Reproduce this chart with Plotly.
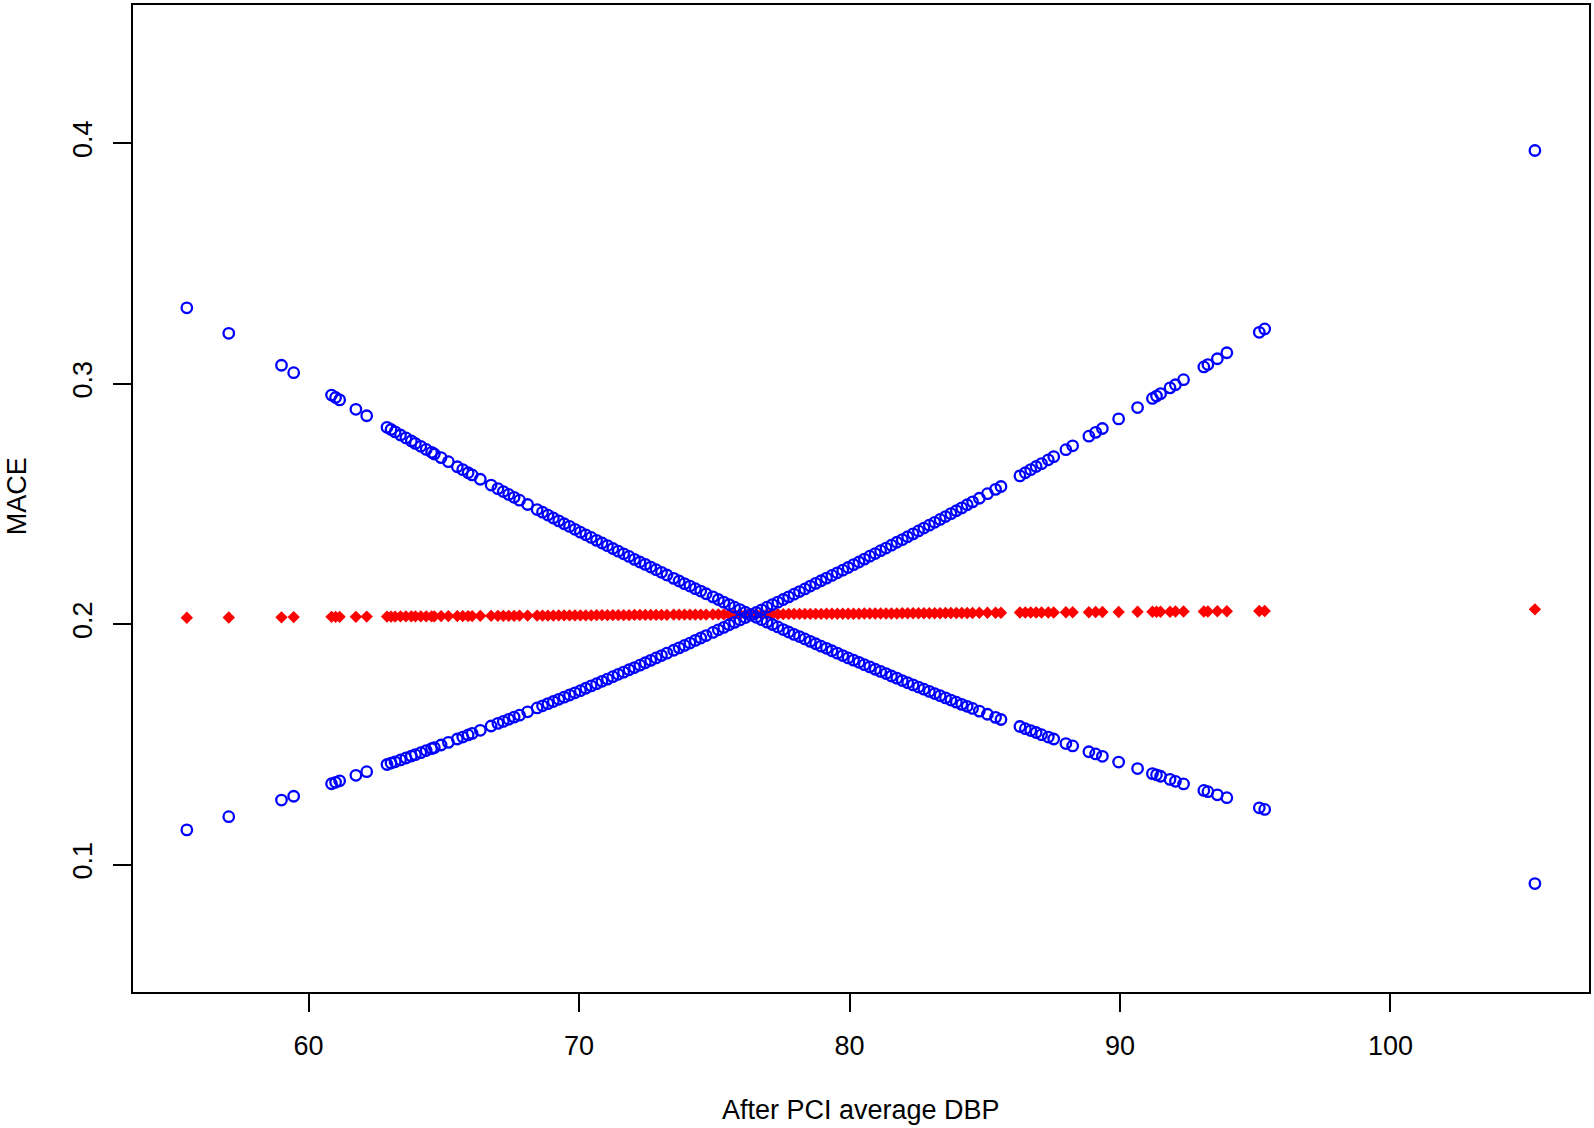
import plotly.graph_objects as go

# After PCI average DBP (x) and predicted MACE with its confidence limits
dbp = [55.5, 57.05, 59.0, 59.45, 60.85, 61.0, 61.15, 61.75, 62.15,
       62.9, 63.05, 63.2, 63.4, 63.6, 63.8, 63.95, 64.15, 64.35, 64.55, 64.65, 64.9, 65.17, 65.5, 65.7, 65.9,
       66.05, 66.35, 66.75, 67.0, 67.2, 67.4, 67.6, 67.8, 68.1,
       68.45, 68.65, 68.85, 69.05, 69.25, 69.45, 69.65, 69.85, 70.05, 70.25, 70.45, 70.65, 70.85, 71.05,
       71.25, 71.45, 71.65, 71.85,
       72.05, 72.25, 72.45, 72.65, 72.85, 73.05, 73.25, 73.5, 73.7, 73.9, 74.1, 74.3, 74.5, 74.7,
       74.95, 75.15, 75.35, 75.55, 75.75,
       75.95, 76.15, 76.35, 76.55, 76.75, 76.95,
       77.15, 77.35, 77.55, 77.75, 77.95, 78.15, 78.35, 78.55, 78.75, 78.95, 79.15, 79.35, 79.55, 79.75,
       79.95, 80.15, 80.35, 80.55, 80.75, 80.95,
       81.15, 81.35, 81.55, 81.75, 81.95, 82.15, 82.35, 82.55, 82.75, 82.95, 83.15, 83.35, 83.55, 83.75,
       83.95, 84.15, 84.35, 84.55,
       84.8, 85.1, 85.4, 85.6, 86.3, 86.5, 86.7, 86.9, 87.1, 87.35, 87.55, 88.0, 88.25, 88.85, 89.1, 89.35,
       89.95, 90.65, 91.2, 91.35, 91.5, 91.85, 92.05, 92.35, 93.1, 93.25, 93.6, 93.95, 95.15, 95.35, 105.34]

mace_upper = [0.3316, 0.3210, 0.3077, 0.3046, 0.2953, 0.2943, 0.2933, 0.2894, 0.2867,
              0.2819, 0.2810, 0.2800, 0.2787, 0.2775, 0.2762, 0.2752, 0.2740, 0.2727, 0.2715, 0.2708, 0.2693,
              0.2676, 0.2655, 0.2643, 0.2630, 0.2621, 0.2603, 0.2579, 0.2564, 0.2552, 0.2540, 0.2528, 0.2516, 0.2498,
              0.2477, 0.2466, 0.2454, 0.2442, 0.2430, 0.2418, 0.2407, 0.2395, 0.2383, 0.2372, 0.2361, 0.2349,
              0.2338, 0.2327, 0.2315, 0.2304, 0.2293, 0.2282,
              0.2270, 0.2259, 0.2249, 0.2238, 0.2227, 0.2216, 0.2205, 0.2191, 0.2180, 0.2169, 0.2159, 0.2148,
              0.2138, 0.2127,
              0.2114, 0.2103, 0.2092, 0.2082, 0.2071,
              0.2061, 0.2050, 0.2040, 0.2049, 0.2060, 0.2071,
              0.2082, 0.2092, 0.2103, 0.2114, 0.2125, 0.2136, 0.2147, 0.2159, 0.2170, 0.2181, 0.2192, 0.2203,
              0.2214, 0.2225, 0.2236, 0.2248, 0.2259, 0.2271, 0.2283, 0.2294,
              0.2306, 0.2317, 0.2329, 0.2341, 0.2352, 0.2364, 0.2376, 0.2388, 0.2400, 0.2412, 0.2424, 0.2436,
              0.2448, 0.2460, 0.2472, 0.2484, 0.2497, 0.2509,
              0.2524, 0.2543, 0.2561, 0.2573, 0.2617, 0.2630, 0.2643, 0.2656, 0.2668, 0.2684, 0.2697, 0.2726,
              0.2742, 0.2782, 0.2798, 0.2814, 0.2854, 0.2901, 0.2939, 0.2949, 0.2959, 0.2983, 0.2996, 0.3017,
              0.3070, 0.3080, 0.3104, 0.3129, 0.3214, 0.3228, 0.3970]

mace_lower = [0.1145, 0.1200, 0.1269, 0.1285, 0.1337, 0.1343, 0.1349, 0.1372, 0.1387,
              0.1417, 0.1423, 0.1428, 0.1436, 0.1444, 0.1452, 0.1458, 0.1466, 0.1475, 0.1483, 0.1487, 0.1498,
              0.1509, 0.1523, 0.1531, 0.1540, 0.1546, 0.1559, 0.1577, 0.1588, 0.1596, 0.1605, 0.1614, 0.1622, 0.1636,
              0.1652, 0.1661, 0.1670, 0.1679, 0.1688, 0.1697, 0.1706, 0.1715, 0.1724, 0.1734, 0.1744, 0.1753,
              0.1763, 0.1772, 0.1782, 0.1792, 0.1801, 0.1811,
              0.1820, 0.1830, 0.1840, 0.1850, 0.1860, 0.1870, 0.1880, 0.1892, 0.1902, 0.1912, 0.1922, 0.1933,
              0.1943, 0.1953,
              0.1966, 0.1977, 0.1987, 0.1998, 0.2008,
              0.2018, 0.2028, 0.2038, 0.2029, 0.2019, 0.2009,
              0.1999, 0.1989, 0.1978, 0.1968, 0.1958, 0.1949, 0.1939, 0.1929, 0.1919, 0.1909, 0.1900, 0.1890,
              0.1880, 0.1870, 0.1860, 0.1851, 0.1842, 0.1832, 0.1823, 0.1813,
              0.1804, 0.1795, 0.1785, 0.1776, 0.1766, 0.1757, 0.1748, 0.1739, 0.1730, 0.1721, 0.1712, 0.1703,
              0.1694, 0.1685, 0.1676, 0.1667, 0.1659, 0.1650,
              0.1639, 0.1626, 0.1613, 0.1604, 0.1575, 0.1566, 0.1558, 0.1550, 0.1541, 0.1531, 0.1523, 0.1504,
              0.1494, 0.1470, 0.1461, 0.1451, 0.1427, 0.1400, 0.1379, 0.1374, 0.1368, 0.1355, 0.1347, 0.1336,
              0.1309, 0.1304, 0.1291, 0.1279, 0.1237, 0.1230, 0.0922]

mace_fit = [0.2027, 0.2028, 0.2029, 0.2030, 0.2031, 0.2031, 0.2031, 0.2031, 0.2032,
            0.2032, 0.2032, 0.2032, 0.2033, 0.2033, 0.2033, 0.2033, 0.2033, 0.2033, 0.2033, 0.2033, 0.2034,
            0.2034, 0.2034, 0.2034, 0.2034, 0.2034, 0.2035, 0.2035, 0.2035, 0.2035, 0.2035, 0.2035, 0.2036, 0.2036,
            0.2036, 0.2036, 0.2036, 0.2036, 0.2037, 0.2037, 0.2037, 0.2037, 0.2037, 0.2037, 0.2037, 0.2038,
            0.2038, 0.2038, 0.2038, 0.2038, 0.2038, 0.2038,
            0.2039, 0.2039, 0.2039, 0.2039, 0.2039, 0.2039, 0.2039, 0.2040, 0.2040, 0.2040, 0.2040, 0.2040,
            0.2040, 0.2040,
            0.2041, 0.2041, 0.2041, 0.2041, 0.2041,
            0.2041, 0.2041, 0.2042, 0.2042, 0.2042, 0.2042,
            0.2042, 0.2042, 0.2042, 0.2043, 0.2043, 0.2043, 0.2043, 0.2043, 0.2043, 0.2043, 0.2044, 0.2044,
            0.2044, 0.2044, 0.2044, 0.2044, 0.2044, 0.2045, 0.2045, 0.2045,
            0.2045, 0.2045, 0.2045, 0.2045, 0.2046, 0.2046, 0.2046, 0.2046, 0.2046, 0.2046, 0.2046, 0.2046,
            0.2047, 0.2047, 0.2047, 0.2047, 0.2047, 0.2047,
            0.2048, 0.2048, 0.2048, 0.2048, 0.2049, 0.2049, 0.2049, 0.2049, 0.2049, 0.2049, 0.2049, 0.2050,
            0.2050, 0.2050, 0.2051, 0.2051, 0.2051, 0.2052, 0.2052, 0.2052, 0.2052, 0.2052, 0.2053, 0.2053,
            0.2053, 0.2053, 0.2054, 0.2054, 0.2055, 0.2055, 0.2062]

x_ticks = [60, 70, 80, 90, 100]
y_ticks = [0.1, 0.2, 0.3, 0.4]
y_tick_text = ["0.1", "0.2", "0.3", "0.4"]

FONT = "Liberation Sans, Arial, sans-serif"

fig = go.Figure()
fig.add_trace(go.Scatter(
    x=dbp, y=mace_fit, mode="markers",
    marker=dict(symbol="diamond", size=9.5, color="#ff0000", line=dict(width=0)),
    showlegend=False, name="MACE"))
fig.add_trace(go.Scatter(
    x=dbp, y=mace_upper, mode="markers",
    marker=dict(symbol="circle-open", size=10.5, color="#0000ff", line=dict(width=2.3, color="#0000ff")),
    showlegend=False, name="upper"))
fig.add_trace(go.Scatter(
    x=dbp, y=mace_lower, mode="markers",
    marker=dict(symbol="circle-open", size=10.5, color="#0000ff", line=dict(width=2.3, color="#0000ff")),
    showlegend=False, name="lower"))

axis_common = dict(
    showgrid=False, zeroline=False, showline=True, linewidth=2, linecolor="black",
    mirror=True, ticks="outside", ticklen=18, tickwidth=2, tickcolor="black",
    tickfont=dict(family=FONT, size=27, color="black"),
)

fig.update_xaxes(range=[53.51, 107.34], tickvals=x_ticks, ticklabelstandoff=11, **axis_common)
fig.update_yaxes(range=[0.0471, 0.4575], tickvals=y_ticks, ticktext=y_tick_text, tickangle=-90,
                 ticklabelstandoff=10, **axis_common)

fig.add_annotation(text="After PCI average DBP", xref="paper", yref="paper",
                   x=0.5, y=-0.1194, xanchor="center", yanchor="middle", showarrow=False,
                   font=dict(family=FONT, size=27, color="black"))
fig.add_annotation(text="MACE", xref="paper", yref="paper",
                   x=-0.0798, y=0.502, xanchor="center", yanchor="middle", showarrow=False,
                   textangle=-90, font=dict(family=FONT, size=27, color="black"))

fig.update_layout(
    width=1594, height=1128,
    margin=dict(l=133, r=3, t=4, b=136),
    paper_bgcolor="white", plot_bgcolor="white",
    showlegend=False,
)

fig.write_html("out.html",
               config={"displayModeBar": False},
               post_script="document.body.style.margin='0';document.body.style.overflow='hidden';")
